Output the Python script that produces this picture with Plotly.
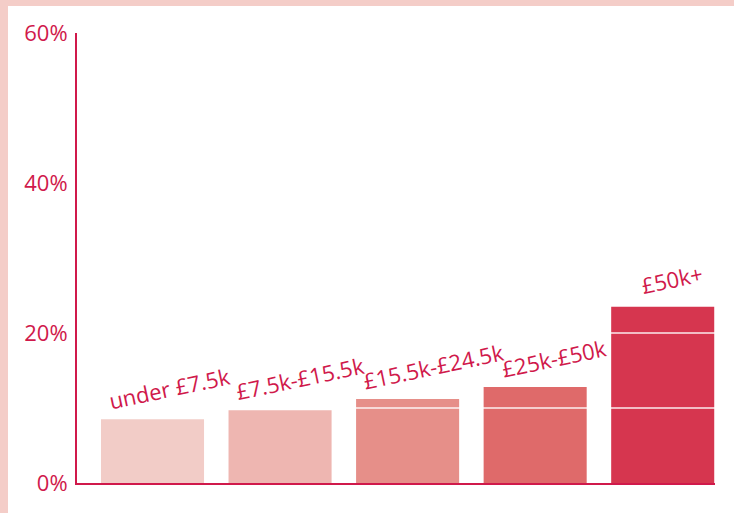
import plotly.graph_objects as go

categories = ["under £7.5k", "£7.5k-£15.5k", "£15.5k-£24.5k", "£25k-£50k", "£50k+"]
values = [8.5, 9.7, 11.2, 12.8, 23.5]
bar_colors = ["#f2ccc7", "#eeb6b1", "#e68f89", "#df6a6a", "#d6364f"]
tick_vals = [0, 20, 40, 60]
tick_text = ["0%", "20%", "40%", "60%"]
grid_vals = [10, 20, 30, 40, 50]
label_dx = [17, 20, 26, 19, 9]
label_dy = [31, 32, 33, 29, 28]

crimson = "#d0194b"
pink = "#f4cdc8"
font_family = "Open Sans, Noto Sans, sans-serif"

x_idx = list(range(len(categories)))

fig = go.Figure()
fig.add_trace(go.Bar(
    x=x_idx, y=values,
    marker=dict(color=bar_colors, line=dict(width=0)),
    width=0.808,
    hoverinfo="skip",
))

shapes = []
W, H = 734, 513
ml, mr, mt, mb = 77, 19, 33, 30
pw, ph = W - ml - mr, H - mt - mb
def px_x(p):
    return (p - ml) / pw
def px_y(p):
    return 1 - (p - mt) / ph
shapes.append(dict(type="rect", xref="paper", yref="paper",
                   x0=px_x(0), x1=px_x(8), y0=px_y(H), y1=px_y(0),
                   fillcolor=pink, line=dict(width=0), layer="below"))
shapes.append(dict(type="rect", xref="paper", yref="paper",
                   x0=px_x(0), x1=px_x(W), y0=px_y(6), y1=px_y(0),
                   fillcolor=pink, line=dict(width=0), layer="below"))
for g in grid_vals:
    shapes.append(dict(type="line", xref="paper", yref="y",
                       x0=0.004, x1=1, y0=g, y1=g,
                       line=dict(color="rgba(255,255,255,0.9)", width=1.5),
                       layer="above"))

annotations = []
for i, (c, v) in enumerate(zip(categories, values)):
    annotations.append(dict(
        x=i, y=v, xref="x", yref="y", text=c, showarrow=False,
        textangle=-12, xanchor="center", yanchor="middle",
        xshift=label_dx[i], yshift=label_dy[i],
        font=dict(family=font_family, size=22, color=crimson),
    ))

fig.update_layout(
    width=W, height=H,
    margin=dict(l=ml, r=mr, t=mt, b=mb, pad=0),
    paper_bgcolor="white", plot_bgcolor="white",
    showlegend=False,
    bargap=0.19,
    shapes=shapes,
    annotations=annotations,
    xaxis=dict(range=[-0.592, 4.41], showticklabels=False, ticks="",
               showgrid=False, zeroline=False, showline=True,
               linecolor=crimson, linewidth=2, fixedrange=True),
    yaxis=dict(range=[0, 60], tickvals=tick_vals, ticktext=tick_text,
               showgrid=False, zeroline=False, showline=True,
               linecolor=crimson, linewidth=2, ticks="", ticklen=0,
               ticklabelstandoff=3,
               tickfont=dict(family=font_family, size=22, color=crimson),
               fixedrange=True),
)

fig.write_html("out.html", config={"displayModeBar": False},
               post_script="document.body.style.margin='0';document.body.style.overflow='hidden';")
